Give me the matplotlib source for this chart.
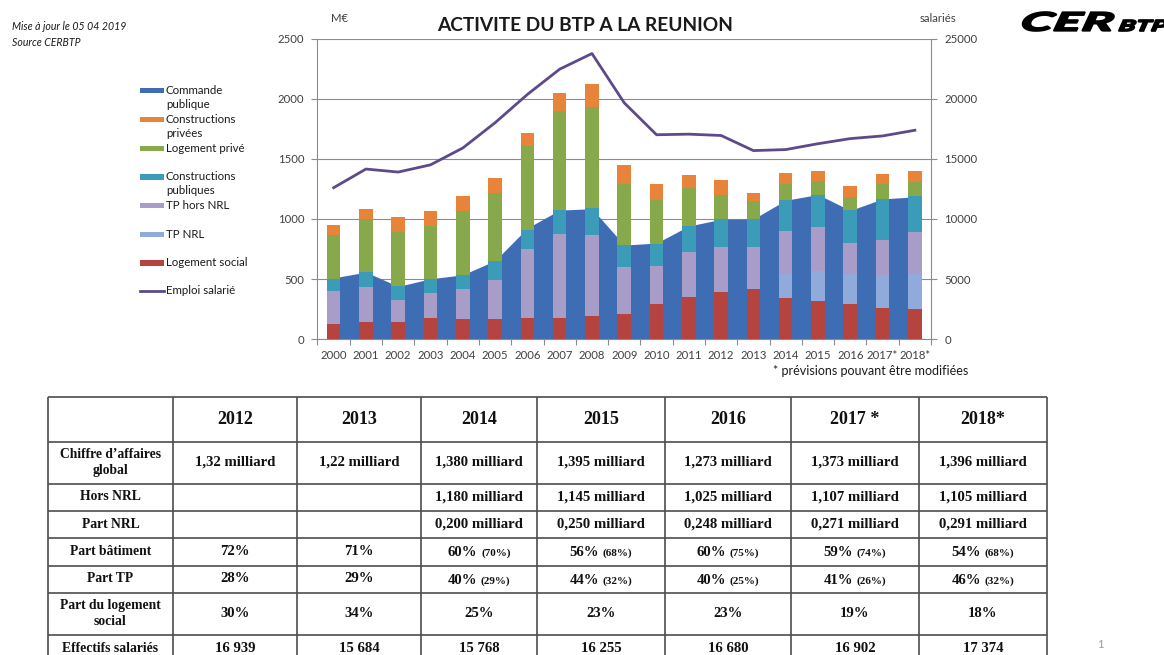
import numpy as np
import matplotlib.pyplot as plt
from matplotlib.patches import Rectangle, PathPatch
from matplotlib.textpath import TextPath
from matplotlib.font_manager import FontProperties
from matplotlib.transforms import Affine2D

plt.rcParams['font.family'] = ['Lato', 'DejaVu Sans']

# chart data (M€ and salaried jobs)
years = ['2000', '2001', '2002', '2003', '2004', '2005', '2006', '2007', '2008', '2009',
         '2010', '2011', '2012', '2013', '2014', '2015', '2016', '2017*', '2018*']
commande_publique = [511, 558, 440, 503, 536, 654, 925, 1074, 1085, 783,
                     800, 942, 997, 1000, 1156, 1203, 1071, 1167, 1184]
logement_social = [126, 143, 140, 181, 165, 165, 173, 181, 192, 209,
                   297, 352, 396, 415, 345, 321, 293, 261, 251]
tp_nrl = [0, 0, 0, 0, 0, 0, 0, 0, 0, 0,
          0, 0, 0, 0, 200, 250, 248, 271, 291]
tp_hors_nrl = [272, 291, 184, 204, 253, 329, 580, 698, 671, 395,
               313, 376, 370, 354, 352, 364, 261, 292, 351]
constructions_publiques = [105, 126, 116, 115, 120, 160, 159, 198, 225, 179,
                           181, 214, 231, 228, 259, 268, 269, 343, 296]
logement_prive = [365, 443, 453, 442, 525, 563, 698, 824, 846, 511,
                  365, 316, 201, 151, 135, 116, 113, 124, 119]
constructions_privees = [85, 82, 123, 121, 124, 126, 107, 143, 184, 151,
                         132, 110, 122, 72, 89, 76, 89, 82, 88]
emploi_salarie = [12600, 14150, 13900, 14500, 15900, 18000, 20350, 22450, 23750, 19650,
                  17000, 17050, 16939, 15684, 15768, 16255, 16680, 16902, 17374]

# table data
table_years = ['2012', '2013', '2014', '2015', '2016', '2017 *', '2018*']
row_labels = ['Chiffre d\u2019affaires\nglobal', 'Hors NRL', 'Part NRL', 'Part b\u00e2timent',
              'Part TP', 'Part du logement\nsocial', 'Effectifs salari\u00e9s']
ca_global = ['1,32 milliard', '1,22 milliard', '1,380 milliard', '1,395 milliard',
             '1,273 milliard', '1,373 milliard', '1,396 milliard']
hors_nrl = ['', '', '1,180 milliard', '1,145 milliard', '1,025 milliard',
            '1,107 milliard', '1,105 milliard']
part_nrl = ['', '', '0,200 milliard', '0,250 milliard', '0,248 milliard',
            '0,271 milliard', '0,291 milliard']
part_batiment = ['72%', '71%', '60%', '56%', '60%', '59%', '54%']
part_batiment_hors_nrl = ['', '', '(70%)', '(68%)', '(75%)', '(74%)', '(68%)']
part_tp = ['28%', '29%', '40%', '44%', '40%', '41%', '46%']
part_tp_hors_nrl = ['', '', '(29%)', '(32%)', '(25%)', '(26%)', '(32%)']
part_logement_social = ['30%', '34%', '25%', '23%', '23%', '19%', '18%']
effectifs = ['16 939', '15 684', '15 768', '16 255', '16 680', '16 902', '17 374']

W, H = 1164, 655
C_BLUE = '#3F6DB4'
C_ORANGE = '#E8843A'
C_GREEN = '#88A94B'
C_TEAL = '#3B9BB8'
C_LILAC = '#A89CC8'
C_LIGHTBLUE = '#90AADB'
C_RED = '#B5433F'
C_LINE = '#5E4A8A'
GRID = '#8c8c8c'
TXT = '#404040'

fig = plt.figure(figsize=(W / 100, H / 100), dpi=100)

# full page overlay in pixel coordinates (for legend, table, notes)
page = fig.add_axes([0, 0, 1, 1])
page.set_xlim(0, W)
page.set_ylim(H, 0)
page.axis('off')

ax = fig.add_axes([317.5 / W, 1 - 339.3 / H, (931 - 317.5) / W, (339.3 - 38.5) / H])
x = np.arange(len(years))

ax.fill_between(x, commande_publique, color=C_BLUE, lw=0, zorder=2)

stack = [(logement_social, C_RED), (tp_nrl, C_LIGHTBLUE), (tp_hors_nrl, C_LILAC),
         (constructions_publiques, C_TEAL), (logement_prive, C_GREEN),
         (constructions_privees, C_ORANGE)]
bottom = np.zeros(len(years))
for vals, col in stack:
    ax.bar(x, vals, 0.42, bottom=bottom, color=col, lw=0, zorder=3)
    bottom += np.array(vals)

ax.set_xlim(-0.5, len(years) - 0.5)
ax.set_ylim(0, 2500)
ax.set_yticks(range(0, 2501, 500))
ax.yaxis.grid(True, color=GRID, lw=0.8)
ax.set_axisbelow(True)
ax.set_xticks(x)
ax.set_xticklabels(years)
ax.set_xticks(np.arange(-0.5, len(years), 1), minor=True)
ax.tick_params(axis='x', which='major', length=0, pad=8, labelsize=8.2, labelcolor=TXT)
ax.tick_params(axis='x', which='minor', length=4, width=0.8, color=GRID)
ax.tick_params(axis='y', length=4, width=0.8, color=GRID, pad=5.5, labelsize=8.2, labelcolor=TXT)
for s in ['top', 'right']:
    ax.spines[s].set_visible(False)
for s in ['left', 'bottom']:
    ax.spines[s].set_color(GRID)
    ax.spines[s].set_linewidth(0.8)

ax2 = ax.twinx()
ax2.plot(x, emploi_salarie, color=C_LINE, lw=2, zorder=5)
ax2.set_ylim(0, 25000)
ax2.set_yticks(range(0, 25001, 5000))
ax2.tick_params(axis='y', length=4, width=0.8, color=GRID, pad=5.5, labelsize=8.2, labelcolor=TXT)
for s in ['top', 'left', 'bottom']:
    ax2.spines[s].set_visible(False)
ax2.spines['right'].set_color(GRID)
ax2.spines['right'].set_linewidth(0.8)

# texts around the chart
page.text(585, 25.5, 'ACTIVITE DU BTP A LA REUNION', ha='center', va='center',
          fontsize=13.8, fontweight='bold', color='#1a1a1a')
page.text(340, 19, 'M\u20ac', ha='center', va='center', fontsize=8.2, color=TXT)
page.text(938, 18, 'salari\u00e9s', ha='center', va='center', fontsize=8.2, color=TXT)
page.text(968, 371, '* pr\u00e9visions pouvant \u00eatre modifi\u00e9es', ha='right', va='center',
          fontsize=9, color='#1a1a1a')
page.text(12, 27, 'Mise \u00e0 jour le 05 04 2019', ha='left', va='center', fontsize=7.6,
          style='italic', color='#1a1a1a')
page.text(12, 42, 'Source CERBTP', ha='left', va='center', fontsize=7.6,
          style='italic', color='#1a1a1a')
page.text(1100, 645, '1', ha='center', va='center', fontsize=8, color='#9a9a9a')

# logo
def logo_text(s, x0, x1, y0, y1):
    tp = TextPath((0, 0), s, size=1,
                  prop=FontProperties(family='Lato', weight='black', style='italic'))
    ext = tp.get_extents()
    tr = (Affine2D().translate(-ext.x0, -ext.y1)
          .scale((x1 - x0) / ext.width, -(y1 - y0) / ext.height)
          .skew_deg(-12, 0)
          .translate(x0 + 3, y0))
    page.add_patch(PathPatch(tr.transform_path(tp), color='black', lw=1.2))

logo_text('CER', 1022, 1112, 12, 31)
logo_text('BTP', 1118, 1166, 20, 31)

# legend
legend_items = [(['Commande', 'publique'], C_BLUE, 90.5),
                (['Constructions', 'priv\u00e9es'], C_ORANGE, 119.5),
                (['Logement priv\u00e9'], C_GREEN, 148.5),
                (['Constructions', 'publiques'], C_TEAL, 177),
                (['TP hors NRL'], C_LILAC, 205.5),
                (['TP NRL'], C_LIGHTBLUE, 234.5),
                (['Logement social'], C_RED, 263)]
for lines, col, yc in legend_items:
    page.add_patch(Rectangle((140, yc - 2.8), 24, 5.6, color=col, lw=0))
    for k, ln in enumerate(lines):
        page.text(166, yc + 14 * k, ln, ha='left', va='center', fontsize=8.3, color='#1a1a1a')
page.plot([140, 164], [291, 291], color=C_LINE, lw=2)
page.text(166, 291, 'Emploi salari\u00e9', ha='left', va='center', fontsize=8.3, color='#1a1a1a')

# table
col_edges = [48, 173, 297, 421, 537, 665, 791, 919, 1047]
row_edges = [397, 441.5, 483.5, 510.5, 538, 565.5, 592.5, 634.5, 664]
page.hlines(row_edges, col_edges[0], col_edges[-1], color='#4d4d4d', lw=1.2)
page.vlines(col_edges, row_edges[0], row_edges[-1], color='#4d4d4d', lw=1.2)

serif = ['Liberation Serif', 'DejaVu Serif']
cx = [(a + b) / 2 for a, b in zip(col_edges[:-1], col_edges[1:])]
cy = [(a + b) / 2 for a, b in zip(row_edges[:-1], row_edges[1:])]
cy[-1] = 648

for j, yr in enumerate(table_years):
    page.text(cx[j + 1], cy[0], yr, ha='center', va='center', fontsize=13,
              fontweight='bold', family=serif, color='#111111')
for i, lab in enumerate(row_labels):
    page.text(cx[0], cy[i + 1], lab, ha='center', va='center', fontsize=9.8,
              fontweight='bold', family=serif, color='#111111', linespacing=1.3)

renderer = fig.canvas.get_renderer()
rows = [(ca_global, None), (hors_nrl, None), (part_nrl, None),
        (part_batiment, part_batiment_hors_nrl), (part_tp, part_tp_hors_nrl),
        (part_logement_social, None), (effectifs, None)]
for i, (vals, subs) in enumerate(rows):
    yc = cy[i + 1]
    for j, v in enumerate(vals):
        xc = cx[j + 1]
        if subs is None or not subs[j]:
            page.text(xc, yc, v, ha='center', va='center', fontsize=10.6,
                      fontweight='bold', family=serif, color='#111111')
        else:
            t1 = page.text(xc, yc + 4.5, v, ha='left', va='baseline', fontsize=10.6,
                           fontweight='bold', family=serif, color='#111111')
            t2 = page.text(xc, yc + 4.5, subs[j], ha='left', va='baseline', fontsize=8,
                           fontweight='bold', family=serif, color='#111111')
            w1 = t1.get_window_extent(renderer).width
            w2 = t2.get_window_extent(renderer).width
            x0 = xc - (w1 + 4 + w2) / 2
            t1.set_x(x0)
            t2.set_x(x0 + w1 + 4)

fig.savefig('out.png', dpi=100)
